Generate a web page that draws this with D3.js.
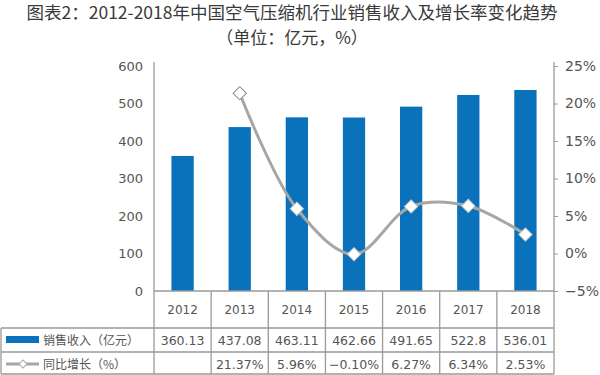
<!DOCTYPE html>
<html>
<head>
<meta charset="utf-8">
<script src="https://cdnjs.cloudflare.com/ajax/libs/d3/7.8.5/d3.min.js"></script>
<style>
  body { margin: 0; background: #fff; }
  svg { display: block; font-family: "Noto Sans CJK SC", "Noto Sans", sans-serif; }
</style>
</head>
<body>
<svg id="chart" width="600" height="375"></svg>
<script>
// Data
const years = ["2012", "2013", "2014", "2015", "2016", "2017", "2018"];
const revenue = [360.13, 437.08, 463.11, 462.66, 491.65, 522.8, 536.01];
const growth = [null, 21.37, 5.96, -0.10, 6.27, 6.34, 2.53];
const revenueLabels = ["360.13", "437.08", "463.11", "462.66", "491.65", "522.8", "536.01"];
const growthLabels = ["", "21.37%", "5.96%", "-0.10%", "6.27%", "6.34%", "2.53%"];
const leftTicks = [0, 100, 200, 300, 400, 500, 600];
const rightTicks = [-5, 0, 5, 10, 15, 20, 25];

const title = "图表2：2012-2018年中国空气压缩机行业销售收入及增长率变化趋势";
const subtitle = "（单位：亿元，%）";
const revenueName = "销售收入（亿元）";
const growthName = "同比增长（%）";

const BLUE = "#0a72ba";
const LINE = "#a6a6a6";
const GRID = "#9a9a9a";
const TEXT = "#555";

const svg = d3.select("#chart");

// layout
const plot = { left: 154, right: 554, top: 66, bottom: 291 };
const rows = { head: 328, rev: 352, bottom: 374 };

// scales
const xCol = d3.scaleBand().domain(years).range([plot.left, plot.right]).padding(0);
const barW = xCol.bandwidth() * 0.39;
const yL = d3.scaleLinear().domain([0, 600]).range([plot.bottom, plot.top]);
const yR = d3.scaleLinear().domain([-5, 25]).range([plot.bottom, plot.top]);

// title
svg.append("text")
  .attr("x", 292).attr("y", 19)
  .attr("text-anchor", "middle")
  .style("font-size", "17.5px")
  .style("fill", "#3a3a3a")
  .text(title);

svg.append("text")
  .attr("x", 292).attr("y", 44)
  .attr("text-anchor", "middle")
  .style("font-size", "17px")
  .style("fill", "#3a3a3a")
  .text(subtitle);

// bars
svg.append("g").selectAll("rect")
  .data(years)
  .enter()
  .append("rect")
    .attr("x", (d) => xCol(d) + (xCol.bandwidth() - barW) / 2)
    .attr("y", (d, i) => yL(revenue[i]))
    .attr("width", barW)
    .attr("height", (d, i) => yL(0) - yL(revenue[i]))
    .attr("fill", BLUE);

// left axis
const gL = svg.append("g")
  .attr("transform", `translate(${plot.left},0)`)
  .call(d3.axisLeft(yL).tickValues(leftTicks).tickSize(0).tickPadding(11));
gL.select(".domain").remove();
gL.selectAll("text")
  .style("font-family", "'DejaVu Sans', sans-serif")
  .style("font-size", "13px")
  .style("fill", TEXT);

// right axis
const gR = svg.append("g")
  .attr("transform", `translate(${plot.right},0)`)
  .call(d3.axisRight(yR).tickValues(rightTicks).tickSizeInner(4).tickSizeOuter(0).tickPadding(7)
    .tickFormat((d) => (d < 0 ? "\u2212" + Math.abs(d) : d) + "%"));
gR.select(".domain").remove();
gR.selectAll("line").attr("stroke", GRID);
gR.selectAll("text")
  .style("font-family", "'DejaVu Sans', sans-serif")
  .style("font-size", "14px")
  .style("fill", TEXT);

// axis/table lines
const lines = svg.append("g").attr("stroke", GRID).attr("stroke-width", 1.3);
lines.append("line").attr("x1", plot.left).attr("x2", plot.left).attr("y1", 62).attr("y2", rows.bottom);
lines.append("line").attr("x1", plot.right).attr("x2", plot.right).attr("y1", 62).attr("y2", rows.bottom);
lines.append("line").attr("x1", plot.left).attr("x2", plot.right).attr("y1", plot.bottom).attr("y2", plot.bottom);
lines.append("line").attr("x1", 1).attr("x2", plot.right).attr("y1", rows.head).attr("y2", rows.head);
lines.append("line").attr("x1", 1).attr("x2", plot.right).attr("y1", rows.rev).attr("y2", rows.rev);
lines.append("line").attr("x1", 1).attr("x2", plot.right).attr("y1", rows.bottom).attr("y2", rows.bottom);
lines.append("line").attr("x1", 1).attr("x2", 1).attr("y1", rows.head).attr("y2", rows.bottom);
lines.selectAll("line.col")
  .data(years.slice(1))
  .enter()
  .append("line")
    .attr("class", "col")
    .attr("x1", (d) => xCol(d)).attr("x2", (d) => xCol(d))
    .attr("y1", plot.bottom).attr("y2", rows.bottom);

// growth line
const pts = years.map((y, i) => ({ year: y, v: growth[i] })).filter((d) => d.v !== null);
const cx = (d) => xCol(d.year) + xCol.bandwidth() / 2;

svg.append("path")
  .datum(pts)
  .attr("fill", "none")
  .attr("stroke", LINE)
  .attr("stroke-width", 3)
  .attr("d", d3.line().x(cx).y((d) => yR(d.v)).curve(d3.curveCatmullRom.alpha(0.5)));

const diamond = d3.symbol().type(d3.symbolSquare).size(88);
svg.append("g").selectAll("path")
  .data(pts)
  .enter()
  .append("path")
    .attr("d", diamond)
    .attr("transform", (d) => `translate(${cx(d)},${yR(d.v)}) rotate(45)`)
    .attr("fill", "#fff")
    .attr("stroke", (d, i) => (i === 0 ? "#888" : "#c8c8c8"))
    .attr("stroke-width", 1);

// table text
const tableFont = "'DejaVu Sans', sans-serif";
svg.append("g").selectAll("text")
  .data(years)
  .enter()
  .append("text")
    .attr("x", (d) => xCol(d) + xCol.bandwidth() / 2)
    .attr("y", 314)
    .attr("text-anchor", "middle")
    .style("font-family", tableFont)
    .style("font-size", "12px")
    .style("fill", TEXT)
    .text((d) => d);

svg.append("g").selectAll("text")
  .data(years)
  .enter()
  .append("text")
    .attr("x", (d) => xCol(d) + xCol.bandwidth() / 2)
    .attr("y", 345)
    .attr("text-anchor", "middle")
    .style("font-family", tableFont)
    .style("font-size", "12.5px")
    .style("fill", TEXT)
    .text((d, i) => revenueLabels[i]);

svg.append("g").selectAll("text")
  .data(years)
  .enter()
  .append("text")
    .attr("x", (d) => xCol(d) + xCol.bandwidth() / 2)
    .attr("y", 369)
    .attr("text-anchor", "middle")
    .style("font-family", tableFont)
    .style("font-size", "12.5px")
    .style("fill", TEXT)
    .text((d, i) => growthLabels[i].replace("-", "\u2212"));

// legend cells
svg.append("rect")
  .attr("x", 6).attr("y", 336).attr("width", 33).attr("height", 7)
  .attr("fill", BLUE);
svg.append("text")
  .attr("x", 43).attr("y", 345)
  .style("font-size", "12px")
  .style("fill", TEXT)
  .text(revenueName);

svg.append("line")
  .attr("x1", 6).attr("x2", 39).attr("y1", 364).attr("y2", 364)
  .attr("stroke", LINE).attr("stroke-width", 3);
svg.append("path")
  .attr("d", d3.symbol().type(d3.symbolSquare).size(32))
  .attr("transform", "translate(23,364) rotate(45)")
  .attr("fill", "#fff")
  .attr("stroke", "#aaa");
svg.append("text")
  .attr("x", 43).attr("y", 369)
  .style("font-size", "12px")
  .style("fill", TEXT)
  .text(growthName);
</script>
</body>
</html>
